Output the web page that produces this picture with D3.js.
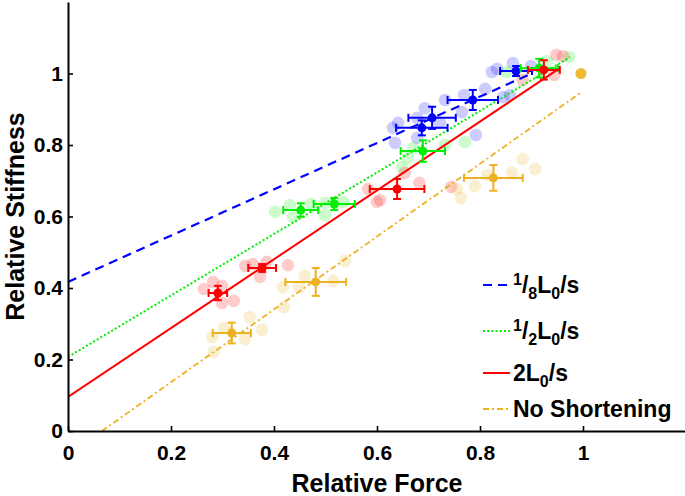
<!DOCTYPE html>
<html><head><meta charset="utf-8">
<script src="https://cdn.jsdelivr.net/npm/d3@7"></script>
<style>
body{margin:0;background:#fff}
svg{display:block}
text{font-family:"Liberation Sans",Arial,Helvetica,sans-serif;font-weight:bold;fill:#000}
</style>
</head><body>
<svg id="c" width="685" height="496"></svg>
<script>
// ---- Data ----
const xTicks = [0, 0.2, 0.4, 0.6, 0.8, 1];
const yTicks = [0, 0.2, 0.4, 0.6, 0.8, 1];
const legendLabels = ["1/8L0/s", "1/2L0/s", "2L0/s", "No Shortening"];
const seriesColors = ["#0000ff", "#00ee00", "#ff0000", "#edb120"];

// individual trials [force, stiffness]
const blueRaw = [[0.631,0.848],[0.635,0.806],[0.641,0.862],[0.678,0.876],[0.693,0.903],[0.678,0.820],
  [0.722,0.862],[0.732,0.926],[0.765,0.892],[0.769,0.940],[0.792,0.828],[0.810,0.957],[0.845,0.934],
  [0.858,0.940],[0.823,1.004],[0.833,1.013],[0.864,1.029],[0.899,1.021]];
const greenRaw = [[0.402,0.613],[0.431,0.632],[0.437,0.599],[0.472,0.635],[0.499,0.604],[0.499,0.638],
  [0.534,0.641],[0.649,0.738],[0.660,0.764],[0.670,0.792],[0.732,0.800],[0.771,0.808],[0.852,1.004],
  [0.930,1.035],[0.973,1.046]];
const redRaw = [[0.264,0.397],[0.282,0.417],[0.299,0.406],[0.299,0.358],[0.322,0.364],[0.344,0.462],
  [0.359,0.467],[0.386,0.473],[0.373,0.431],[0.427,0.464],[0.583,0.677],[0.600,0.641],[0.606,0.646],
  [0.654,0.722],[0.682,0.694],[0.744,0.683],[0.883,0.982],[0.944,0.996],[0.948,1.052],[0.961,1.049]];
const orangeRaw = [[0.280,0.263],[0.303,0.288],[0.353,0.319],[0.344,0.257],[0.377,0.283],[0.283,0.221],
  [0.417,0.403],[0.460,0.434],[0.449,0.403],[0.515,0.420],[0.538,0.476],[0.419,0.347],[0.755,0.677],
  [0.763,0.652],[0.790,0.685],[0.814,0.716],[0.862,0.722],[0.883,0.761],[0.907,0.733]];

// means [force, stiffness, forceErr, stiffnessErr]
const blueMeans = [[0.870,1.007,0.031,0.014],[0.786,0.926,0.049,0.028],[0.707,0.876,0.046,0.031],[0.687,0.848,0.050,0.021]];
const greenMeans = [[0.452,0.618,0.034,0.019],[0.517,0.635,0.040,0.017],[0.689,0.783,0.043,0.030],[0.915,1.015,0.036,0.026]];
const redMeans = [[0.291,0.386,0.018,0.020],[0.377,0.456,0.027,0.011],[0.639,0.677,0.053,0.028],[0.924,1.010,0.031,0.027]];
const orangeMeans = [[0.318,0.274,0.037,0.029],[0.481,0.417,0.059,0.039],[0.826,0.708,0.057,0.036],[0.996,1.000,0,0]];

// fitted lines (endpoints)
const blueFit = [[0,0.417],[0.903,1.002]];
const greenFit = [[0,0.207],[0.975,1.046]];
const redFit = [[0,0.095],[0.955,1.015]];
const orangeFit = [[0.066,0],[0.994,0.945]];

// ---- Chart ----
const svg = d3.select("#c");
const x = d3.scaleLinear().domain([0, 1.2]).range([68, 686]);
const y = d3.scaleLinear().domain([0, 1.2]).range([431, 2]);

const series = [
  {raw: blueRaw, means: blueMeans, fit: blueFit, dash: "9,6", width: 2.2},
  {raw: greenRaw, means: greenMeans, fit: greenFit, dash: "2,2.2", width: 2},
  {raw: redRaw, means: redMeans, fit: redFit, dash: null, width: 2},
  {raw: orangeRaw, means: orangeMeans, fit: orangeFit, dash: "6,3,2,3", width: 1.8}
].map((s, i) => Object.assign(s, {color: seriesColors[i], label: legendLabels[i]}));

svg.append("defs").append("clipPath").attr("id", "plot")
  .append("rect").attr("x", x(0)).attr("y", y(1.2)).attr("width", x(1.2) - x(0)).attr("height", y(0) - y(1.2));

const gPlot = svg.append("g").attr("clip-path", "url(#plot)");

// faint individual points
series.forEach(s => {
  gPlot.append("g").selectAll("circle").data(s.raw).join("circle")
    .attr("cx", d => x(d[0])).attr("cy", d => y(d[1])).attr("r", 6.3)
    .attr("fill", s.color).attr("fill-opacity", 0.2);
});

// fit lines
const line = d3.line().x(d => x(d[0])).y(d => y(d[1]));
series.forEach(s => {
  gPlot.append("path").attr("d", line(s.fit)).attr("fill", "none")
    .attr("stroke", s.color).attr("stroke-width", s.width)
    .attr("stroke-dasharray", s.dash);
});

// means with error bars
const cap = 4;
series.forEach(s => {
  const g = gPlot.append("g").attr("stroke", s.color).attr("stroke-width", 2).attr("fill", s.color);
  s.means.forEach(d => {
    const cx = x(d[0]), cy = y(d[1]);
    if (d[2] > 0) {
      const x0 = x(d[0] - d[2]), x1 = x(d[0] + d[2]);
      g.append("line").attr("x1", x0).attr("x2", x1).attr("y1", cy).attr("y2", cy);
      g.append("line").attr("x1", x0).attr("x2", x0).attr("y1", cy - cap).attr("y2", cy + cap);
      g.append("line").attr("x1", x1).attr("x2", x1).attr("y1", cy - cap).attr("y2", cy + cap);
    }
    if (d[3] > 0) {
      const y0 = y(d[1] - d[3]), y1 = y(d[1] + d[3]);
      g.append("line").attr("x1", cx).attr("x2", cx).attr("y1", y0).attr("y2", y1);
      g.append("line").attr("x1", cx - cap).attr("x2", cx + cap).attr("y1", y0).attr("y2", y0);
      g.append("line").attr("x1", cx - cap).attr("x2", cx + cap).attr("y1", y1).attr("y2", y1);
    }
    g.append("circle").attr("cx", cx).attr("cy", cy).attr("r", d[2] > 0 ? 4.5 : 5.5)
      .attr("stroke", "none").attr("fill-opacity", d[2] > 0 ? 1 : 0.9);
  });
});

// axes
const xAxis = d3.axisBottom(x).tickValues(xTicks).tickFormat(d3.format("~g"))
  .tickSizeInner(-5).tickSizeOuter(0).tickPadding(14);
const yAxis = d3.axisLeft(y).tickValues(yTicks).tickFormat(d3.format("~g"))
  .tickSizeInner(-5).tickSizeOuter(0).tickPadding(5);

const gx = svg.append("g").attr("transform", `translate(0,${y(0)})`).call(xAxis);
const gy = svg.append("g").attr("transform", `translate(${x(0)},0)`).call(yAxis);
[gx, gy].forEach(g => {
  g.select(".domain").attr("stroke", "#000").attr("stroke-width", 2);
  g.selectAll(".tick line").attr("stroke", "#000").attr("stroke-width", 1.6);
  g.selectAll(".tick text").attr("font-size", 21).attr("font-family", "Liberation Sans, Arial, sans-serif")
    .attr("font-weight", "bold").attr("fill", "#000");
});

// axis titles
svg.append("text").attr("x", (x(0) + x(1.2)) / 2).attr("y", 492).attr("text-anchor", "middle")
  .attr("font-size", 25).text("Relative Force");
svg.append("text").attr("transform", `translate(24,${(y(0) + y(1.2)) / 2}) rotate(-90)`)
  .attr("text-anchor", "middle").attr("font-size", 25).text("Relative Stiffness");

// legend
const legY = [285, 331, 373, 409];
const lx0 = 483, lx1 = 510, tx = 513;
const big = 23, small = 16;
series.forEach((s, i) => {
  const ly = legY[i];
  svg.append("line").attr("x1", lx0).attr("x2", lx1).attr("y1", ly).attr("y2", ly)
    .attr("stroke", s.color).attr("stroke-width", s.width).attr("stroke-dasharray", s.dash);
  const t = svg.append("text").attr("x", tx).attr("y", ly + 8).attr("font-size", big);
  const frac = s.label.match(/^(\d)\/(\d)L0\/s$/);
  const whole = s.label.match(/^(\d)L0\/s$/);
  if (frac) {
    t.append("tspan").attr("font-size", small).attr("dy", -8).text(frac[1]);
    t.append("tspan").attr("dy", 8).text("/");
    t.append("tspan").attr("font-size", small).attr("dy", 6).text(frac[2]);
    t.append("tspan").attr("dy", -6).text("L");
    t.append("tspan").attr("font-size", small).attr("dy", 6).text("0");
    t.append("tspan").attr("dy", -6).text("/s");
  } else if (whole) {
    t.append("tspan").text(whole[1] + "L");
    t.append("tspan").attr("font-size", small).attr("dy", 6).text("0");
    t.append("tspan").attr("dy", -6).text("/s");
  } else {
    t.text(s.label);
  }
});
</script>
</body></html>
